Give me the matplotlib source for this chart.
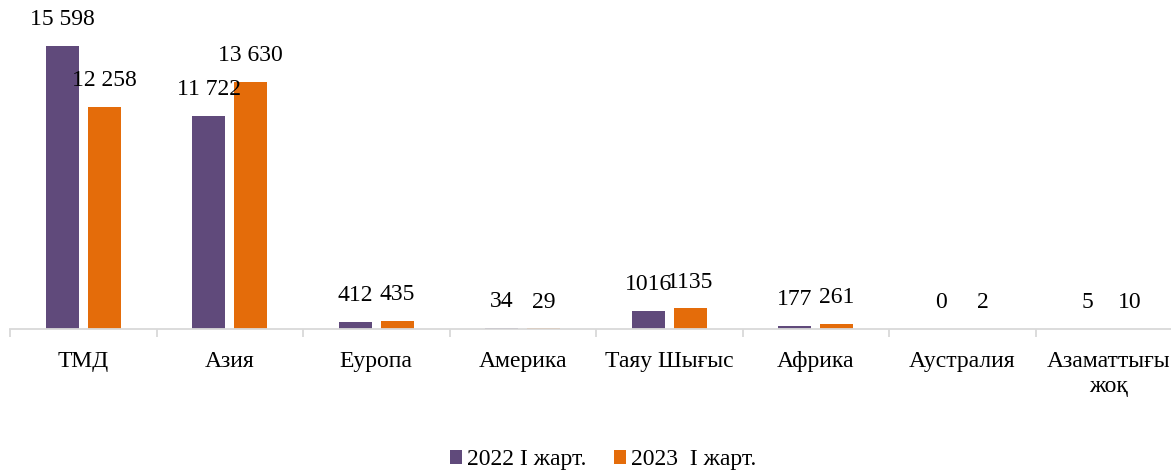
import matplotlib
matplotlib.use("Agg")
import matplotlib.pyplot as plt
import numpy as np

categories = ["ТМД", "Азия", "Еуропа", "Америка", "Таяу Шығыс", "Африка", "Аустралия", "Азаматтығы\nжоқ"]
series_names = ["2022 I жарт.", "2023  I жарт."]
values_2022 = [15598, 11722, 412, 34, 1016, 177, 0, 5]
values_2023 = [12258, 13630, 435, 29, 1135, 261, 2, 10]
colors = ["#604A7B", "#E46C0A"]

def fmt(v):
    if v >= 10000:
        return f"{v:,}".replace(",", " ")
    return str(v)

plt.rcParams['font.family'] = ['Liberation Serif', 'DejaVu Serif']
FS = 17

fig = plt.figure(figsize=(11.71, 4.70), dpi=100)
ax = fig.add_axes([10/1171, 0.3, 1172/1171, 0.695])

x = np.arange(len(categories))
w = 0.225
off = 0.143
b1 = ax.bar(x - off, values_2022, w, color=colors[0], label=series_names[0])
b2 = ax.bar(x + off, values_2023, w, color=colors[1], label=series_names[1])

for bars, vals in ((b1, values_2022), (b2, values_2023)):
    for r, v in zip(bars, vals):
        ax.annotate(fmt(v), (r.get_x() + r.get_width()/2, v), xytext=(0, 19),
                    textcoords="offset points", ha="center", va="center", fontsize=FS)

ax.set_xlim(-0.5, 7.5)
ax.set_ylim(0, 18000)
ax.set_yticks([])
for s in ("top", "right", "left"):
    ax.spines[s].set_visible(False)
ax.spines["bottom"].set_color("#d9d9d9")
ax.spines["bottom"].set_linewidth(1.3)

ax.set_xticks(np.arange(-0.5, 8, 1))
ax.set_xticklabels([])
ax.tick_params(axis="x", which="major", length=6, color="#d9d9d9", width=1.3)
ax.set_xticks(x, minor=True)
ax.set_xticklabels(categories, minor=True, fontsize=FS, va="top", linespacing=1.25)
ax.tick_params(axis="x", which="minor", length=0, pad=16)

leg = fig.legend(handles=[b1, b2], labels=series_names, loc="center", bbox_to_anchor=(0.515, 0.022),
                 ncol=2, frameon=False, fontsize=FS, handlelength=0.5, handleheight=0.5,
                 handletextpad=0.2, columnspacing=1.2)

fig.savefig("out.png", dpi=100)
